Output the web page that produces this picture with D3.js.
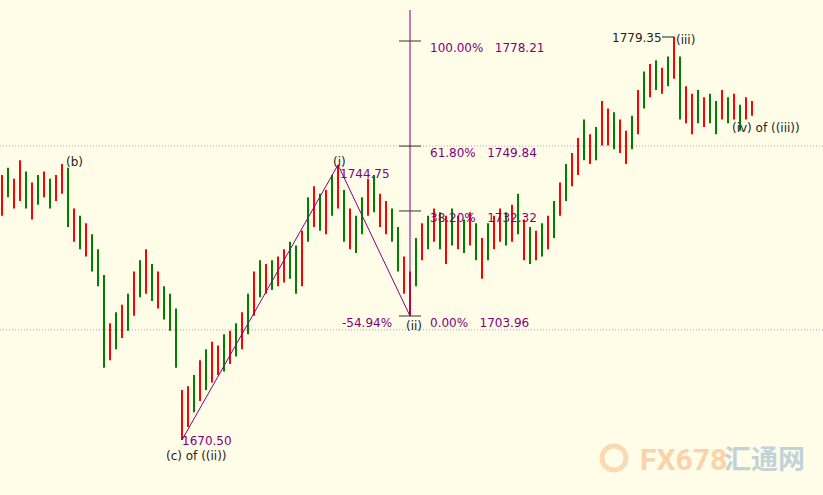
<!DOCTYPE html><html><head><meta charset="utf-8"><script src="https://cdn.jsdelivr.net/npm/d3@7"></script>
<style>body{margin:0;background:#fffde8}svg{display:block}</style></head><body><svg id="c" width="823" height="495"></svg>
<script>
const highs=[1742,1744,1741,1746,1743,1740,1742,1743,1741,1742,1745,1744,1733,1731,1729,1726,1722,1715,1702,1705,1707,1710,1716,1719,1722,1718,1716,1712,1710,1706,1684,1685,1688,1692,1695,1697,1696,1699,1700,1702,1705,1710,1716,1719,1718,1719,1720,1722,1724,1723,1727,1736,1739,1737,1738,1742,1744.8,1738,1733,1731,1736,1741,1742,1737,1735,1733,1728,1720,1716,1725,1729,1731,1733,1732,1731,1733,1731,1730,1732,1729,1725,1729,1731,1733,1732,1734,1737,1730,1728,1727,1729,1731,1735,1740,1745,1748,1752,1757,1753,1755,1762,1760,1759,1757,1754,1758,1765,1770,1772,1773,1771,1774,1779.35,1774,1766,1764,1765,1763,1764,1762,1765,1763,1764,1761,1763,1762];
const lows=[1731,1736,1733,1735,1733,1730,1734,1736,1733,1735,1737,1728,1724,1722,1720,1716,1712,1690,1692,1695,1698,1700,1704,1709,1710,1708,1706,1703,1700,1690,1670.5,1674,1678,1681,1684,1686,1688,1689,1691,1693,1695,1699,1704,1709,1710,1711,1712,1713,1714,1710,1712,1724,1728,1727,1726,1731,1733,1724,1722,1721,1726,1731,1732,1728,1726,1724,1716,1710,1703.96,1712,1719,1722,1724,1722,1718,1723,1722,1721,1723,1719,1714,1719,1722,1724,1723,1724,1726,1719,1718,1719,1720,1722,1725,1731,1735,1739,1742,1746,1745,1746,1750,1750,1749,1748,1745,1749,1753,1760,1763,1765,1764,1766,1768,1757,1756,1753,1756,1755,1756,1753,1757,1756,1757,1754,1757,1758];
const dirs="rgrrgrgrgrrgrgrgggrgrgrgrgrgggrrgrgrrgrgrgrgrgrrggrgrgrgrgrggrgrrggrrgrgrgrgrgrgrgrrgrgrgrgrgrgrrgrgrrgrrgrgrgrgrgrrgrggrgrgrrgrgrg";
const fibLevels=[100,61.8,38.2,0];
const fibPrices=[1778.21,1749.84,1732.32,1703.96];
const waves=[{i:30,p:1670.5},{i:56,p:1744.75},{i:68,p:1703.96}];

const svg=d3.select("#c");
const x=d3.scaleLinear().domain([0,125]).range([2,752]);
const y=d3.scaleLinear().domain([1703.96,1778.21]).range([316,41]);
const purple="#800080";
[[1749.84],[1700.2]].forEach(([p])=>svg.append("line").attr("x1",0).attr("x2",823).attr("y1",y(p)).attr("y2",y(p)).attr("stroke","#aaa").attr("stroke-dasharray","1,2"));
const wm=svg.append("g").attr("opacity",0.45);
wm.append("circle").attr("cx",614).attr("cy",458).attr("r",12).attr("fill","none").attr("stroke","#f3b070").attr("stroke-width",5);
wm.append("text").attr("x",640).attr("y",470).attr("font-family","Roboto").attr("font-weight","bold").attr("font-size",30).attr("fill","#f7a060").text("FX678");
wm.append("text").attr("x",724).attr("y",469).attr("font-family","Noto Sans CJK SC").attr("font-weight","bold").attr("font-size",27).attr("fill","#7aa0c8").text("汇通网");
svg.append("g").selectAll("line").data(highs).join("line")
 .attr("x1",(d,i)=>x(i)).attr("x2",(d,i)=>x(i)).attr("y1",d=>y(d)).attr("y2",(d,i)=>y(lows[i]))
 .attr("stroke",(d,i)=>dirs[i]==="r"?"#ff0000":"#008000").attr("stroke-width",2);
svg.append("line").attr("x1",410).attr("x2",410).attr("y1",10).attr("y2",y(1703.96)).attr("stroke",purple);
fibPrices.forEach((p,k)=>{
 svg.append("line").attr("x1",399).attr("x2",421).attr("y1",y(p)).attr("y2",y(p)).attr("stroke","#333");
 svg.append("text").attr("x",430).attr("y",y(p)+11).attr("font-family","DejaVu Sans").attr("font-size",12).attr("fill",purple)
  .attr("xml:space","preserve").text(fibLevels[k].toFixed(2)+"%   "+p.toFixed(2));
});
svg.append("path").attr("d",d3.line().x(d=>x(d.i)).y(d=>y(d.p))(waves)).attr("fill","none").attr("stroke",purple).attr("stroke-width",1);
function t(xx,yy,s,c){svg.append("text").attr("x",xx).attr("y",yy).attr("font-family","DejaVu Sans").attr("font-size",12).attr("fill",c||"#222").text(s);}
t(66,166,"(b)");t(333,166,"(i)");t(340,178,"1744.75",purple);t(182,445,"1670.50",purple);
t(166,460,"(c) of ((ii))");t(406,330,"(ii)");t(342,327,"-54.94%",purple);
t(612,42,"1779.35");t(676,44,"(iii)");t(732,132,"(iv) of ((iii))");
svg.append("line").attr("x1",662).attr("x2",674).attr("y1",37).attr("y2",37).attr("stroke","#222");
</script></body></html>
